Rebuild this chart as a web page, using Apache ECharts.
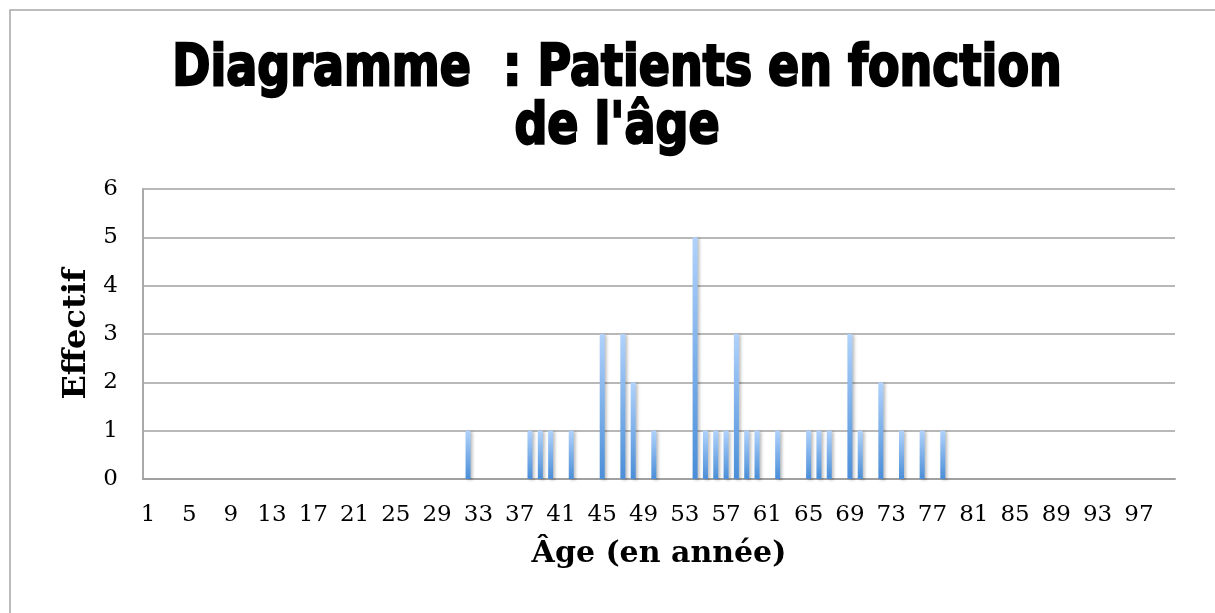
<!DOCTYPE html>
<html>
<head>
<meta charset="utf-8">
<script src="https://cdn.jsdelivr.net/npm/echarts@6/dist/echarts.min.js"></script>
<style>
html,body{margin:0;padding:0;background:#fff;}
#chart{width:1215px;height:613px;}
</style>
</head>
<body>
<div id="chart"></div>
<script>
// Category labels (ages 1..100)
const categories = ['1','2','3','4','5','6','7','8','9','10','11','12','13','14','15','16','17','18','19','20',
'21','22','23','24','25','26','27','28','29','30','31','32','33','34','35','36','37','38','39','40',
'41','42','43','44','45','46','47','48','49','50','51','52','53','54','55','56','57','58','59','60',
'61','62','63','64','65','66','67','68','69','70','71','72','73','74','75','76','77','78','79','80',
'81','82','83','84','85','86','87','88','89','90','91','92','93','94','95','96','97','98','99','100'];
// Observed ages and their counts (Effectif)
const ages   = ['32','38','39','40','42','45','47','48','50','54','55','56','57','58','59','60','62','65','66','67','69','70','72','74','76','78'];
const counts = [ 1,   1,   1,   1,   1,   3,   3,   2,   1,   5,   1,   1,   1,   3,   1,   1,   1,   1,   1,   1,   3,   1,   2,   1,   1,   1 ];
const yTicks = [0,1,2,3,4,5,6];
const titleText = "Diagramme  : Patients en fonction\nde l'âge";
const xName = 'Âge (en année)';
const yName = 'Effectif';

const lookup = {};
ages.forEach((a, i) => { lookup[a] = counts[i]; });
const seriesData = categories.map(c => (c in lookup ? lookup[c] : null));

const chart = echarts.init(document.getElementById('chart'), null, {renderer: 'canvas'});
const serif = '"DejaVu Serif", "Liberation Serif", serif';
chart.setOption({
  animation: false,
  backgroundColor: '#ffffff',
  graphic: [
    {type: 'rect', shape: {x: 10, y: 10, width: 1400, height: 800}, style: {fill: 'none', stroke: '#a6a6a6', lineWidth: 1.5}, silent: true, z: 0},
    {type: 'text', x: 617, y: 41, scaleY: 1.22, z: 10,
     style: {text: titleText, font: 'bold 46px "DejaVu Sans", "Liberation Sans", sans-serif', fill: '#000', stroke: '#000', lineWidth: 2,
             textAlign: 'center', textVerticalAlign: 'top', lineHeight: 48}}
  ],
  grid: {left: 143, right: 40, top: 189, bottom: 134, containLabel: false},
  xAxis: {
    type: 'category',
    data: categories,
    name: xName,
    nameLocation: 'middle',
    nameGap: 60,
    nameTextStyle: {fontFamily: serif, fontWeight: 'bold', fontSize: 30, color: '#000'},
    axisLine: {show: true, lineStyle: {color: '#a0a0a0', width: 2}},
    axisTick: {show: false},
    axisLabel: {interval: 3, fontFamily: serif, fontSize: 23, color: '#000', margin: 25}
  },
  yAxis: {
    type: 'value',
    min: 0, max: 6, interval: 1,
    name: yName,
    nameLocation: 'middle',
    nameRotate: 90,
    nameGap: 50,
    nameTextStyle: {fontFamily: serif, fontWeight: 'bold', fontSize: 32, color: '#000'},
    axisLine: {show: true, lineStyle: {color: '#a9a9a9', width: 2}},
    axisTick: {show: false},
    axisLabel: {fontFamily: serif, fontSize: 23, color: '#000', margin: 25,
      formatter: v => (yTicks.indexOf(v) >= 0 ? String(v) : '')},
    splitLine: {show: true, lineStyle: {color: '#a0a0a0', width: 1.5}}
  },
  series: [{
    type: 'bar',
    data: seriesData,
    barWidth: 5,
    itemStyle: {
      color: new echarts.graphic.LinearGradient(0, 0, 0, 1, [
        {offset: 0, color: '#b0d2fc'},
        {offset: 1, color: '#4a8ed8'}
      ]),
      shadowColor: 'rgba(0,0,0,0.25)', shadowBlur: 3, shadowOffsetX: 2, shadowOffsetY: 1
    }
  }]
});
</script>
</body>
</html>
